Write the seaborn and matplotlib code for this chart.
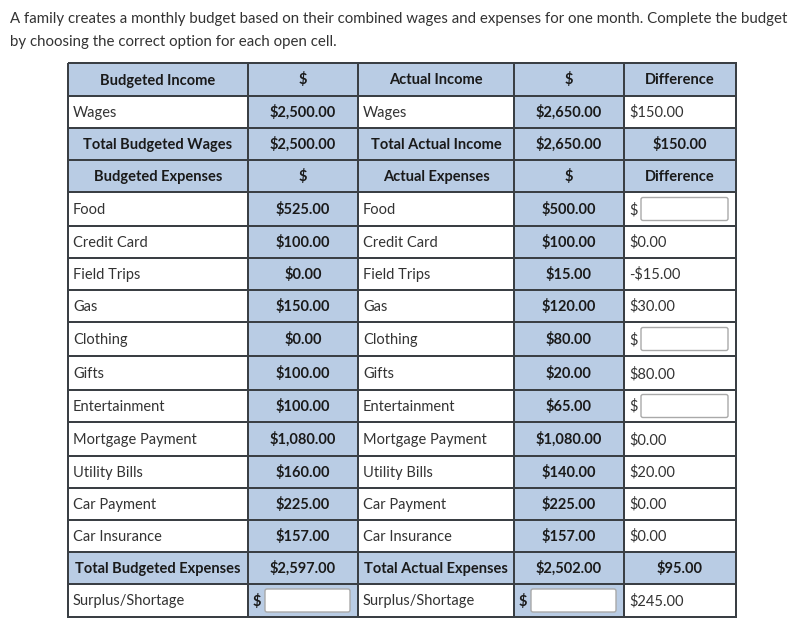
import matplotlib
matplotlib.use("Agg")
from matplotlib import pyplot as plt
from matplotlib.colors import ListedColormap
from matplotlib.patches import FancyBboxPatch
import numpy as np
import seaborn as sns

sns.set_style("white")
plt.rcParams['font.family'] = ['Lato', 'DejaVu Sans']

# data
intro_1 = ("A family creates a monthly budget based on their combined wages and expenses "
           "for one month. Complete the budget")
intro_2 = "by choosing the correct option for each open cell."

income_header = ["Budgeted Income", "$", "Actual Income", "$", "Difference"]
expense_header = ["Budgeted Expenses", "$", "Actual Expenses", "$", "Difference"]

budgeted_wages = 2500.00
actual_wages = 2650.00
wages_diff = 150.00

expense_items = ["Food", "Credit Card", "Field Trips", "Gas", "Clothing", "Gifts",
                 "Entertainment", "Mortgage Payment", "Utility Bills", "Car Payment",
                 "Car Insurance"]
budgeted_exp = [525.00, 100.00, 0.00, 150.00, 0.00, 100.00, 100.00, 1080.00, 160.00, 225.00, 157.00]
actual_exp = [500.00, 100.00, 15.00, 120.00, 80.00, 20.00, 65.00, 1080.00, 140.00, 225.00, 157.00]
exp_diff = [None, 0.00, -15.00, 30.00, None, 80.00, None, 0.00, 20.00, 0.00, 0.00]  # None = open cell

total_budgeted_exp = 2597.00
total_actual_exp = 2502.00
total_exp_diff = 95.00
surplus_diff = 245.00

# layout (pixels)
col_edges = [68, 248, 358, 514, 624, 736]
row_edges = [63, 96, 128, 160, 192, 226, 258, 290, 322, 356, 390, 422, 456, 488, 520, 552, 584, 617]
blue = "#b9cce4"
line_col = "#3a3f44"
dark = "#1a1a1a"
gray = "#333333"


def money(v):
    if v is None:
        return None
    s = f"${abs(v):,.2f}"
    return "-" + s if v < 0 else s


# build rows: (cells, is_header_row)
rows = []
rows.append((income_header, True))
rows.append((["Wages", money(budgeted_wages), "Wages", money(actual_wages), money(wages_diff)], False))
rows.append((["Total Budgeted Wages", money(budgeted_wages), "Total Actual Income",
              money(actual_wages), money(wages_diff)], True))
rows.append((expense_header, True))
for name, b, a, d in zip(expense_items, budgeted_exp, actual_exp, exp_diff):
    rows.append(([name, money(b), name, money(a), money(d)], False))
rows.append((["Total Budgeted Expenses", money(total_budgeted_exp), "Total Actual Expenses",
              money(total_actual_exp), money(total_exp_diff)], True))
rows.append((["Surplus/Shortage", None, "Surplus/Shortage", None, money(surplus_diff)], False))

# shading matrix: 1 = blue
shade = np.zeros((len(rows), 5))
for i, (cells, hdr) in enumerate(rows):
    shade[i, 1] = 1
    shade[i, 3] = 1
    if hdr:
        shade[i, :] = 1

fig = plt.figure(figsize=(8, 6.33), dpi=100)
ax = fig.add_axes([0, 0, 1, 1])
ax.set_xlim(0, 800)
ax.set_ylim(633, 0)
ax.axis("off")

ax.pcolormesh(col_edges, row_edges, shade, cmap=ListedColormap(["white", blue]),
              vmin=0, vmax=1, edgecolors=line_col, linewidth=1.1)

ax.text(10, 23, intro_1, ha="left", va="baseline", fontsize=10.85, color=gray)
ax.text(10, 46, intro_2, ha="left", va="baseline", fontsize=10.85, color=gray)

fs = 10.5


def input_box(x0, x1, yc, dollar_bold):
    ax.text(x0, yc + 5, "$", ha="left", va="baseline", fontsize=fs,
            color=dark if dollar_bold else gray, fontweight="bold" if dollar_bold else "normal")
    box = FancyBboxPatch((x0 + 12, yc - 11.5), x1 - x0 - 16, 23,
                         boxstyle="round,pad=0,rounding_size=2",
                         facecolor="white", edgecolor="#a9a9a9", linewidth=1)
    ax.add_patch(box)


for i, (cells, hdr) in enumerate(rows):
    yc = (row_edges[i] + row_edges[i + 1]) / 2
    for j, txt in enumerate(cells):
        x0, x1 = col_edges[j], col_edges[j + 1]
        if txt is None:
            input_box(x0 + 5, x1 - 4, yc, dollar_bold=(j != 4))
            continue
        if hdr or j in (1, 3):
            ax.text((x0 + x1) / 2, yc + 5, txt, ha="center", va="baseline", fontsize=fs,
                    fontweight="bold", color=dark)
        else:
            ax.text(x0 + 5, yc + 5, txt, ha="left", va="baseline", fontsize=fs, color=gray)

fig.savefig("out.png", dpi=100)
